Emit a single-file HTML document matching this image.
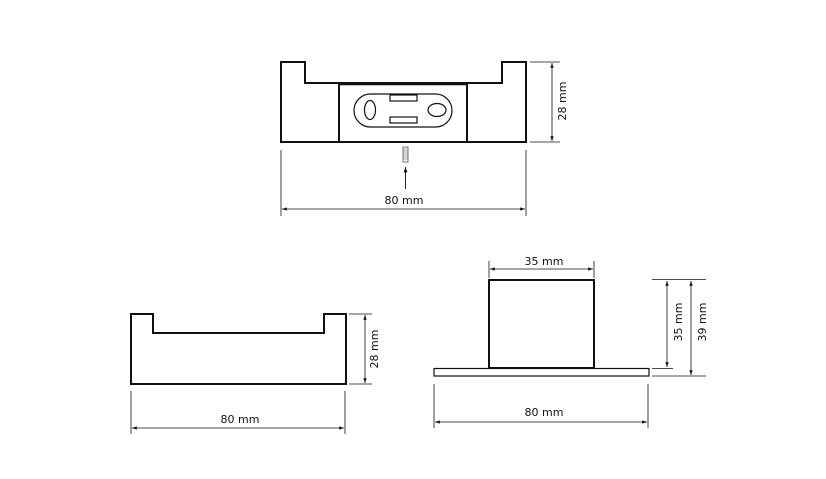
<!DOCTYPE html>
<html><head><meta charset="utf-8"><style>
html,body{margin:0;padding:0;background:#fff;}
svg{display:block;}
text{font-family:"DejaVu Sans","Liberation Sans",sans-serif;font-size:11px;fill:#111;}
</style></head><body>
<svg width="826" height="479" viewBox="0 0 826 479" xmlns="http://www.w3.org/2000/svg">
<defs>
<marker id="a" viewBox="0 0 10 10" refX="10" refY="5" markerWidth="6" markerHeight="6" orient="auto-start-reverse"><path d="M0,1.5 L10,5 L0,8.5 z" fill="#111"/></marker>
</defs>
<g fill="none" stroke="#111">
<!-- top view -->
<path d="M281,62 H305 V83 H502 V62 H526 V142 H281 Z" stroke-width="2"/>
<line x1="339" y1="83" x2="339" y2="142" stroke-width="2"/>
<line x1="467" y1="83" x2="467" y2="142" stroke-width="2"/>
<line x1="339" y1="84" x2="467" y2="84" stroke-width="2.5"/>
<rect x="354" y="94" width="98" height="33" rx="16.5" stroke-width="1.2"/>
<rect x="390" y="95" width="27" height="6" stroke-width="1.2"/>
<rect x="390" y="117" width="27" height="6" stroke-width="1.2"/>
<ellipse cx="370" cy="110" rx="5.5" ry="9.5" stroke-width="1.2"/>
<ellipse cx="437" cy="110" rx="9" ry="6.5" stroke-width="1.2"/>
<rect x="403" y="147" width="5" height="15" stroke-width="0.8" stroke="#555"/>
<path d="M403,149h5M403,151h5M403,153h5M403,155h5M403,157h5M403,159h5" stroke-width="0.6" stroke="#555"/>
<line x1="405.5" y1="189" x2="405.5" y2="167" stroke-width="0.9" marker-end="url(#a)"/>
<line x1="281" y1="150" x2="281" y2="216" stroke-width="0.8"/>
<line x1="526" y1="150" x2="526" y2="216" stroke-width="0.8"/>
<line x1="282" y1="209" x2="525" y2="209" stroke-width="0.8" marker-start="url(#a)" marker-end="url(#a)"/>
<line x1="530" y1="62" x2="560" y2="62" stroke-width="0.8"/>
<line x1="530" y1="142" x2="560" y2="142" stroke-width="0.8"/>
<line x1="552" y1="63" x2="552" y2="141" stroke-width="0.8" marker-start="url(#a)" marker-end="url(#a)"/>
<!-- bottom left -->
<path d="M131,314 H153 V333 H324 V314 H346 V384 H131 Z" stroke-width="2"/>
<line x1="349" y1="314" x2="372" y2="314" stroke-width="0.8"/>
<line x1="349" y1="384" x2="372" y2="384" stroke-width="0.8"/>
<line x1="365" y1="315" x2="365" y2="383" stroke-width="0.8" marker-start="url(#a)" marker-end="url(#a)"/>
<line x1="131" y1="391" x2="131" y2="434" stroke-width="0.8"/>
<line x1="345" y1="391" x2="345" y2="434" stroke-width="0.8"/>
<line x1="132" y1="428" x2="344" y2="428" stroke-width="0.8" marker-start="url(#a)" marker-end="url(#a)"/>
<!-- bottom right -->
<rect x="489" y="280" width="105" height="88" stroke-width="2"/>
<rect x="434" y="368.5" width="215" height="7.5" stroke-width="1.2"/>
<line x1="489" y1="261" x2="489" y2="278" stroke-width="0.8"/>
<line x1="594" y1="261" x2="594" y2="278" stroke-width="0.8"/>
<line x1="490" y1="269" x2="593" y2="269" stroke-width="0.8" marker-start="url(#a)" marker-end="url(#a)"/>
<line x1="652" y1="279.5" x2="706" y2="279.5" stroke-width="0.8"/>
<line x1="652" y1="368.5" x2="673" y2="368.5" stroke-width="0.8"/>
<line x1="652" y1="376" x2="706" y2="376" stroke-width="0.8"/>
<line x1="667" y1="281" x2="667" y2="367" stroke-width="0.8" marker-start="url(#a)" marker-end="url(#a)"/>
<line x1="691" y1="281" x2="691" y2="375" stroke-width="0.8" marker-start="url(#a)" marker-end="url(#a)"/>
<line x1="434" y1="384" x2="434" y2="428" stroke-width="0.8"/>
<line x1="648" y1="384" x2="648" y2="428" stroke-width="0.8"/>
<line x1="435" y1="422" x2="647" y2="422" stroke-width="0.8" marker-start="url(#a)" marker-end="url(#a)"/>
</g>
<text x="404" y="204" text-anchor="middle">80 mm</text>
<text transform="translate(566,101) rotate(-90)" text-anchor="middle">28 mm</text>
<text x="240" y="423" text-anchor="middle">80 mm</text>
<text transform="translate(378,349) rotate(-90)" text-anchor="middle">28 mm</text>
<text x="544" y="265" text-anchor="middle">35 mm</text>
<text x="544" y="416" text-anchor="middle">80 mm</text>
<text transform="translate(682,322) rotate(-90)" text-anchor="middle">35 mm</text>
<text transform="translate(706,322) rotate(-90)" text-anchor="middle">39 mm</text>
</svg>
</body></html>
